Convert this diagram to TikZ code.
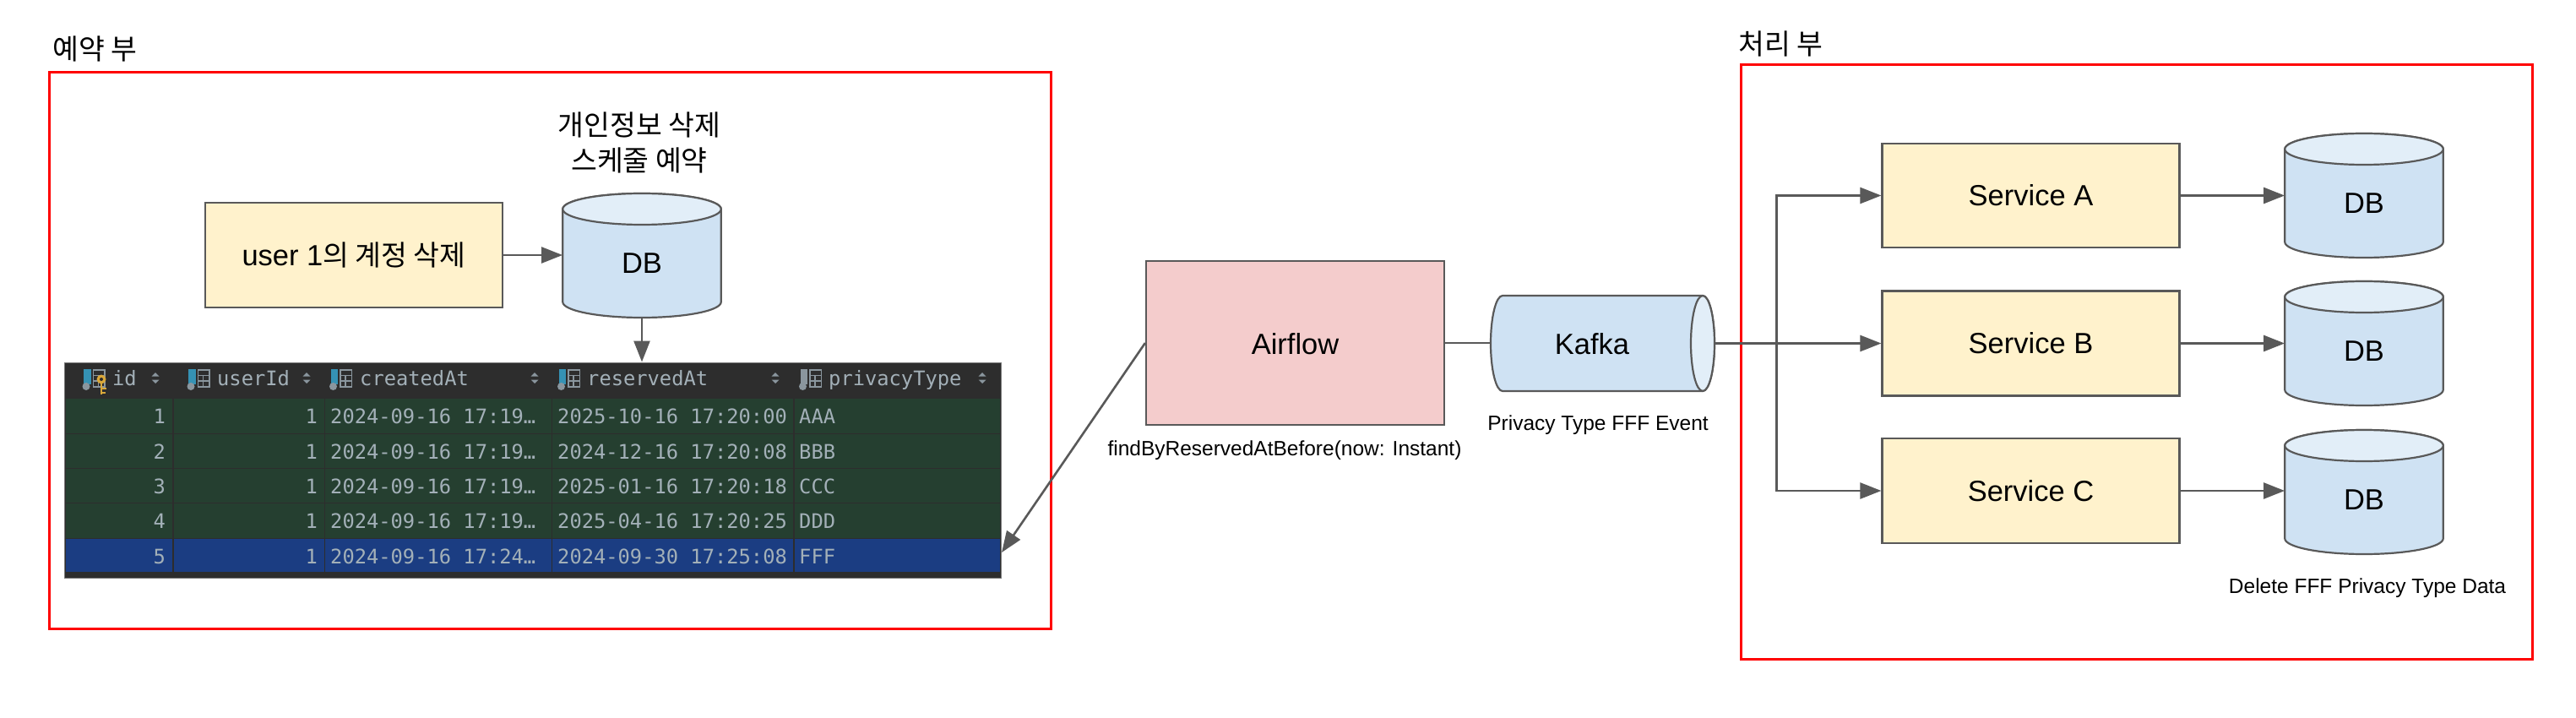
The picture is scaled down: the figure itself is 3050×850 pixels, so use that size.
\documentclass[tikz,border=0pt]{standalone}
\usepackage{fontspec}
\setmainfont{Liberation Sans}
\newfontfamily\krfont{Noto Sans CJK KR}
\newfontfamily\tblfont{DejaVu Sans Mono}
\usetikzlibrary{arrows.meta}
\definecolor{stroke}{HTML}{595959}
\definecolor{boxyellow}{HTML}{FFF2CC}
\definecolor{boxred}{HTML}{F4CCCC}
\definecolor{cylblue}{HTML}{CFE2F3}
\definecolor{cyllight}{HTML}{E2EEF8}
\definecolor{tblbg}{HTML}{2D2D2D}
\definecolor{tblgreen}{HTML}{253F30}
\definecolor{tblblue}{HTML}{1B3D82}
\definecolor{tbltext}{HTML}{A3B0B8}
\definecolor{icoblue}{HTML}{3592B4}
\definecolor{icogrey}{HTML}{8A969E}
\definecolor{icokey}{HTML}{D9A83A}
\tikzset{
  bigtext/.style={inner sep=0pt,font=\fontsize{34.5}{40}\selectfont},
  smalltext/.style={inner sep=0pt,font=\fontsize{24.5}{29}\selectfont},
  krtext/.style={inner sep=0pt,align=center,font=\krfont\fontsize{33.5}{42}\selectfont},
  boxnode/.style={draw=stroke,line width=2.2pt,inner sep=0pt},
  redbox/.style={draw=red,line width=3pt,inner sep=0pt},
  conn/.style={draw=stroke,line width=2.6pt},
  arrowconn/.style={conn,-{Triangle[length=25pt,width=19pt]}},
  cyl/.style={draw=stroke,line width=2.2pt},
  celltext/.style={inner sep=0pt,text=tbltext,font=\tblfont\fontsize{23.75}{28}\selectfont},
}
\newcommand\dbcyl[4]{%
  \begin{scope}
  \pgfmathsetmacro\cl{#2-93.75}\pgfmathsetmacro\cre{#2+93.75}
  \pgfmathsetmacro\tp{#3+18.5}\pgfmathsetmacro\bt{#4-18.5}
  \pgfmathsetmacro\mid{(#3+#4)/2}\pgfmathsetmacro\hh{#4-#3}
  \draw[cyl,fill=cylblue] (\cl,\tp) arc[start angle=180,end angle=0,x radius=93.75pt,y radius=18.5pt]
    -- (\cre,\bt) arc[start angle=0,end angle=-180,x radius=93.75pt,y radius=18.5pt] -- cycle;
  \draw[cyl,fill=cyllight] (#2,\tp) ellipse[x radius=93.75pt,y radius=18.5pt];
  \node[inner sep=0pt,minimum width=187.5pt,minimum height=\hh pt] (#1) at (#2,\mid) {};
  \node[bigtext] (#1t) at (#2,\mid+9.5) {DB};
  \end{scope}}
\newcommand\colicon[2]{%
  \fill[#2] (#1+1.5,437) rectangle (#1+10,455);
  \fill[icogrey] (#1+4.5,457.5) circle[radius=4.5pt];
  \draw[icogrey,line width=1.5pt] (#1+13,438) rectangle (#1+26.5,458)
    (#1+13,444.5) -- (#1+26.5,444.5) (#1+13,451) -- (#1+26.5,451) (#1+19,444.5) -- (#1+19,458);}
\newcommand\sorticon[1]{%
  \fill[icogrey] (#1-4.5,445.7) -- (#1+4.5,445.7) -- (#1,441) -- cycle;
  \fill[icogrey] (#1-4.5,449.5) -- (#1+4.5,449.5) -- (#1,454) -- cycle;}
\begin{document}
\begin{tikzpicture}[x=1pt,y=-1pt]
\useasboundingbox (0,0) rectangle (3050,850);
\fill[white] (0,0) rectangle (3050,850);

% red frames
\draw[redbox] (58,86) rectangle (1244,744);
\draw[redbox] (2061.5,77) rectangle (2998,780);
\node[krtext,anchor=west] (titleA) at (62,58) {예약 부};
\node[krtext,anchor=west] (titleB) at (2058,52) {처리 부};

% left part
\node[boxnode,fill=boxyellow,minimum width=352pt,minimum height=124pt] (user) at (419,302) {};
\node[bigtext] (usert) at (419,302) {user 1{\krfont\fontsize{33.5}{40}\selectfont 의 계정 삭제}};
\dbcyl{dbmain}{760}{229}{376}
\node[krtext] (notice) at (757,169) {개인정보 삭제\\스케줄 예약};

% table
\node[inner sep=0pt,draw=stroke!80,line width=1pt,fill=tblbg,minimum width=1109pt,minimum height=255pt] (table) at (630.5,556.5) {};
\foreach \ya/\yb/\rc in {472/512.5/tblgreen,513.5/553.5/tblgreen,554.5/595/tblgreen,596/637/tblgreen,638/677/tblblue}{
  \foreach \xa/\xb in {77.5/204,205.5/383.5,385/653,654/939,940.5/1183.5}{
    \fill[\rc] (\xa,\ya) rectangle (\xb,\yb);
  }
}
\colicon{97.5}{icoblue}
\colicon{221.5}{icoblue}
\colicon{390}{icoblue}
\colicon{660}{icoblue}
\colicon{946}{icogrey}
% key on the id column
\fill[icokey] (120,449) circle[radius=5.5pt];
\fill[tblbg] (120,449) circle[radius=2pt];
\draw[icokey,line width=2.2pt] (120,454) -- (120,467) (120,460) -- (126,460) (120,465) -- (125,465);
\sorticon{184}\sorticon{363}\sorticon{633}\sorticon{918}\sorticon{1163}
\node[celltext,anchor=base west] (hid) at (133,456) {id};
\node[celltext,anchor=base west] (huser) at (257,456) {userId};
\node[celltext,anchor=base west] (hcreated) at (426,456) {createdAt};
\node[celltext,anchor=base west] (hreserved) at (695,456) {reservedAt};
\node[celltext,anchor=base west] (hprivacy) at (981,456) {privacyType};
\foreach \rw/\by/\cat/\res/\ptype in {
  1/501.7/2024-09-16 17:19…/2025-10-16 17:20:00/AAA,
  2/543/2024-09-16 17:19…/2024-12-16 17:20:08/BBB,
  3/584.3/2024-09-16 17:19…/2025-01-16 17:20:18/CCC,
  4/625.6/2024-09-16 17:19…/2025-04-16 17:20:25/DDD,
  5/667/2024-09-16 17:24…/2024-09-30 17:25:08/FFF}{
  \node[celltext,anchor=base east] (cid\rw) at (196,\by) {\rw};
  \node[celltext,anchor=base east] (cuser\rw) at (376,\by) {1};
  \node[celltext,anchor=base west] (ccreated\rw) at (391,\by) {\cat};
  \node[celltext,anchor=base west] (creserved\rw) at (660,\by) {\res};
  \node[celltext,anchor=base west] (cprivacy\rw) at (946,\by) {\ptype};
}
\coordinate (rowfff) at (1186,654);

% middle
\node[boxnode,fill=boxred,minimum width=353pt,minimum height=194pt] (airflow) at (1533.5,406) {};
\node[bigtext] (airflowt) at (1533.5,407) {Airflow};
\node[smalltext] (findby) at (1521,533) {findByReservedAtBefore(now: Instant)};
\draw[cyl,fill=cylblue] (1779,350) -- (2016,350)
  arc[start angle=90,end angle=-90,x radius=14pt,y radius=56.5pt]
  -- (1779,463) arc[start angle=270,end angle=90,x radius=14pt,y radius=56.5pt] -- cycle;
\draw[cyl,fill=cyllight] (2016,406.5) ellipse[x radius=14pt,y radius=56.5pt];
\node[inner sep=0pt,minimum width=265pt,minimum height=113pt] (kafka) at (1897.5,406.5) {};
\node[bigtext] (kafkat) at (1885,407) {Kafka};
\node[smalltext] (kafkalabel) at (1892,503) {Privacy Type FFF Event};

% right part
\node[boxnode,fill=boxyellow,minimum width=352pt,minimum height=123pt] (sa) at (2404.5,231.5) {};
\node[boxnode,fill=boxyellow,minimum width=352pt,minimum height=124pt] (sb) at (2404.5,406.5) {};
\node[boxnode,fill=boxyellow,minimum width=352pt,minimum height=124pt] (sc) at (2404.5,581) {};
\node[bigtext] (sat) at (2404.5,231.5) {Service A};
\node[bigtext] (sbt) at (2404.5,406.5) {Service B};
\node[bigtext] (sct) at (2404.5,581) {Service C};
\dbcyl{dba}{2799}{158}{305}
\dbcyl{dbb}{2799}{333}{480}
\dbcyl{dbc}{2799}{509}{656}
\node[smalltext] (dellabel) at (2803,696) {Delete FFF Privacy Type Data};

% connectors
\draw[arrowconn] (user.east) -- (user.east -| dbmain.west);
\draw[arrowconn] (dbmain.south) -- (dbmain.south |- table.north);
\draw[arrowconn] (airflow.west) -- (rowfff);
\draw[conn] (airflow.east) -- (airflow.east -| kafka.west);
\draw[arrowconn] (kafka.east) -- (sb.west);
\coordinate (junc) at (2103.6,406.5);
\draw[arrowconn] (junc) |- (sa.west);
\draw[arrowconn] (junc) |- (sc.west);
\draw[arrowconn] (sa.east) -- (sa.east -| dba.west);
\draw[arrowconn] (sb.east) -- (sb.east -| dbb.west);
\draw[arrowconn] (sc.east) -- (sc.east -| dbc.west);
\end{tikzpicture}
\end{document}
